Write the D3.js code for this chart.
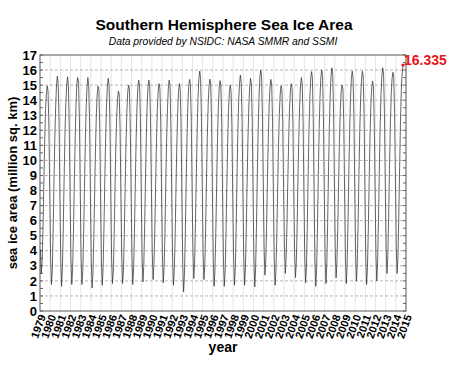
<!DOCTYPE html>
<html>
<head>
<meta charset="utf-8">
<script src="https://cdn.jsdelivr.net/npm/d3@7"></script>
<style>
  body { margin: 0; background: #fff; }
  svg { font-family: "Liberation Sans", Arial, sans-serif; }
</style>
</head>
<body>
<svg id="svg" width="450" height="366"></svg>
<script>
// monthly sea ice area (million sq. km), Jan..Dec
const years = [1979, 1980, 1981, 1982, 1983, 1984, 1985, 1986, 1987, 1988, 1989, 1990,
  1991, 1992, 1993, 1994, 1995, 1996, 1997, 1998, 1999, 2000, 2001, 2002,
  2003, 2004, 2005, 2006, 2007, 2008, 2009, 2010, 2011, 2012, 2013, 2014]

const monthly = [
  [4.1, 2.5, 3.3, 5.4, 8.4, 11.2, 13.3, 14.4, 14.95, 14.6, 12.3, 7.9],
  [3.6, 1.76, 2.7, 5.2, 8.6, 11.5, 13.6, 15.0, 15.6, 15.1, 12.6, 7.6],
  [3.4, 1.64, 2.9, 5.6, 8.9, 11.8, 13.8, 15.0, 15.55, 15.0, 12.4, 7.7],
  [3.5, 1.76, 2.8, 5.3, 8.5, 11.4, 13.7, 15.1, 15.5, 15.2, 12.8, 8.0],
  [3.6, 1.76, 2.6, 5.0, 8.3, 11.3, 13.5, 14.9, 15.5, 15.0, 12.5, 7.8],
  [3.4, 1.53, 2.5, 4.8, 7.9, 10.8, 13.0, 14.4, 14.93, 14.7, 12.2, 7.5],
  [3.3, 1.71, 2.9, 5.5, 8.8, 11.6, 13.6, 14.9, 15.45, 15.0, 12.6, 7.9],
  [3.5, 1.82, 2.6, 4.9, 8.0, 10.9, 12.9, 14.1, 14.6, 14.4, 12.1, 7.6],
  [3.6, 1.82, 2.7, 5.1, 8.2, 11.1, 13.2, 14.5, 15.0, 14.8, 12.4, 8.1],
  [3.7, 1.76, 2.8, 5.3, 8.5, 11.5, 13.6, 14.8, 15.33, 15.0, 12.7, 7.9],
  [3.6, 1.93, 3.0, 5.6, 8.7, 11.6, 13.7, 14.9, 15.33, 14.9, 12.5, 8.2],
  [3.9, 2.09, 3.1, 5.4, 8.4, 11.3, 13.4, 14.6, 15.1, 14.8, 12.6, 7.8],
  [3.7, 1.87, 2.9, 5.2, 8.6, 11.5, 13.5, 14.8, 15.33, 14.9, 12.3, 7.7],
  [3.5, 1.71, 2.7, 5.0, 8.1, 11.0, 13.2, 14.6, 15.1, 14.7, 12.4, 7.4],
  [3.1, 1.27, 2.4, 5.1, 8.5, 11.5, 13.6, 14.9, 15.38, 15.1, 12.9, 8.3],
  [4.0, 2.16, 3.2, 5.8, 9.0, 12.0, 14.1, 15.4, 15.93, 15.5, 13.0, 8.4],
  [3.9, 2.09, 3.0, 5.5, 8.7, 11.6, 13.7, 14.9, 15.4, 15.1, 12.7, 7.9],
  [3.5, 1.64, 2.7, 5.2, 8.4, 11.4, 13.5, 14.8, 15.3, 15.0, 12.5, 7.7],
  [3.4, 1.64, 2.6, 5.0, 8.2, 11.1, 13.3, 14.5, 15.0, 14.6, 12.3, 7.6],
  [3.5, 1.71, 2.8, 5.4, 8.8, 11.8, 13.9, 15.1, 15.67, 15.2, 12.8, 8.0],
  [3.6, 1.71, 2.9, 5.5, 8.7, 11.5, 13.6, 14.9, 15.45, 15.1, 12.6, 7.8],
  [3.4, 1.6, 2.8, 5.6, 9.0, 12.0, 14.2, 15.5, 16.0, 15.6, 13.1, 8.6],
  [4.2, 2.38, 3.4, 5.7, 8.8, 11.6, 13.7, 14.9, 15.38, 15.0, 12.6, 7.6],
  [3.4, 1.71, 2.7, 5.0, 8.1, 11.0, 13.1, 14.4, 14.95, 14.7, 12.5, 8.2],
  [4.3, 2.49, 3.5, 5.7, 8.6, 11.3, 13.4, 14.6, 15.1, 14.8, 12.6, 8.0],
  [3.9, 2.22, 3.2, 5.6, 8.8, 11.6, 13.7, 15.0, 15.5, 15.1, 12.8, 7.9],
  [3.6, 1.87, 2.9, 5.6, 9.0, 12.0, 14.1, 15.4, 15.9, 15.5, 12.9, 7.8],
  [3.4, 1.64, 2.8, 5.5, 9.0, 12.1, 14.2, 15.5, 16.0, 15.6, 13.0, 8.1],
  [3.6, 1.82, 3.0, 5.8, 9.2, 12.2, 14.3, 15.6, 16.15, 15.7, 13.2, 8.3],
  [4.0, 2.2, 3.3, 5.6, 8.6, 11.4, 13.4, 14.6, 15.0, 14.8, 12.7, 8.0],
  [3.6, 1.82, 3.0, 5.7, 9.1, 12.0, 14.1, 15.4, 15.93, 15.5, 13.0, 8.2],
  [3.8, 1.98, 3.2, 5.9, 9.2, 12.1, 14.2, 15.4, 15.93, 15.6, 13.1, 8.0],
  [3.6, 1.76, 2.9, 5.4, 8.6, 11.5, 13.7, 14.8, 15.27, 15.0, 12.6, 8.1],
  [3.8, 2.0, 3.3, 6.0, 9.3, 12.3, 14.4, 15.6, 16.15, 15.8, 13.3, 8.6],
  [4.3, 2.49, 3.6, 6.2, 9.4, 12.3, 14.3, 15.4, 15.85, 15.6, 13.2, 8.7],
  [4.3, 2.49, 3.6, 6.3, 9.6, 12.6, 14.7, 15.8, 16.335]
]

const xTicks = [1979, 1980, 1981, 1982, 1983, 1984, 1985, 1986, 1987, 1988, 1989, 1990,
  1991, 1992, 1993, 1994, 1995, 1996, 1997, 1998, 1999, 2000, 2001, 2002, 2003,
  2004, 2005, 2006, 2007, 2008, 2009, 2010, 2011, 2012, 2013, 2014, 2015]
const yTicks = [0, 1, 2, 3, 4, 5, 6, 7, 8, 9, 10, 11, 12, 13, 14, 15, 16, 17]
const yMinorTicks = [0.5, 1.5, 2.5, 3.5, 4.5, 5.5, 6.5, 7.5, 8.5, 9.5, 10.5, 11.5,
  12.5, 13.5, 14.5, 15.5, 16.5]

const margin = { top: 55, right: 44, bottom: 55, left: 40 }
const width = 450
const height = 366

// flatten to points, mid-month positions
const points = []
monthly.forEach((row, i) => {
  row.forEach((v, m) => points.push({ t: years[i] + (m + 0.5) / 12, v }))
})

const x = d3.scaleLinear()
  .domain([1979, 2015])
  .range([margin.left, width - margin.right])
const y = d3.scaleLinear()
  .domain([0, 17])
  .range([height - margin.bottom, margin.top])

const svg = d3.select('#svg')

// vertical grid
svg.append('g')
  .selectAll('line')
  .data(xTicks.slice(1, -1))
  .enter()
  .append('line')
  .attr('x1', d => x(d)).attr('x2', d => x(d))
  .attr('y1', y(17)).attr('y2', y(0))
  .attr('stroke', '#e6e6e6')
  .attr('stroke-width', 1)

// horizontal dashed grid
svg.append('g')
  .selectAll('line')
  .data(yTicks.slice(1, -1))
  .enter()
  .append('line')
  .attr('x1', x(1979)).attr('x2', x(2015))
  .attr('y1', d => y(d)).attr('y2', d => y(d))
  .attr('stroke', '#c4aeba')
  .attr('stroke-dasharray', '3,2')
  .attr('stroke-width', 1)

// ticks on both sides, pointing in
const tickG = svg.append('g').attr('stroke', '#666')
tickG.selectAll('.tl')
  .data(yMinorTicks.concat(yTicks))
  .enter()
  .append('line')
  .attr('x1', x(1979)).attr('x2', x(1979) + 3)
  .attr('y1', d => y(d)).attr('y2', d => y(d))
tickG.selectAll('.tr')
  .data(yMinorTicks.concat(yTicks))
  .enter()
  .append('line')
  .attr('x1', x(2015)).attr('x2', x(2015) - 3)
  .attr('y1', d => y(d)).attr('y2', d => y(d))

// frame
svg.append('rect')
  .attr('x', x(1979))
  .attr('y', y(17))
  .attr('width', x(2015) - x(1979))
  .attr('height', y(0) - y(17))
  .attr('fill', 'none')
  .attr('stroke', '#555')
  .attr('stroke-width', 1)

// data line
const line = d3.line()
  .x(d => x(d.t))
  .y(d => y(d.v))
svg.append('path')
  .datum(points)
  .attr('d', line)
  .attr('fill', 'none')
  .attr('stroke', '#333')
  .attr('stroke-width', 0.75)

// last value
const last = points[points.length - 1]
svg.append('circle')
  .attr('cx', x(last.t))
  .attr('cy', y(last.v))
  .attr('r', 1.6)
  .attr('fill', '#e8161a')
svg.append('text')
  .attr('x', x(last.t) + 1)
  .attr('y', y(last.v))
  .attr('fill', '#e8161a')
  .attr('font-size', 14)
  .attr('font-weight', 'bold')
  .text(last.v.toFixed(3))

// axes
const leftAxis = d3.axisLeft(y).tickValues(yTicks).tickSize(0).tickPadding(3)
const yAxisG = svg.append('g')
  .attr('transform', `translate(${margin.left}, 0)`)
  .call(leftAxis)
yAxisG.select('.domain').remove()
yAxisG.selectAll('text')
  .attr('font-size', 13)
  .attr('font-weight', 'bold')
  .attr('font-family', '"Liberation Sans", Arial, sans-serif')
  .attr('fill', '#000')

const bottomAxis = d3.axisBottom(x).tickValues(xTicks).tickFormat(d3.format('d')).tickSize(0)
const xAxisG = svg.append('g')
  .attr('transform', `translate(0, ${height - margin.bottom})`)
  .call(bottomAxis)
xAxisG.select('.domain').remove()
xAxisG.selectAll('text')
  .attr('font-size', 11)
  .attr('font-weight', 'bold')
  .attr('font-family', '"Liberation Sans", Arial, sans-serif')
  .attr('fill', '#000')
  .attr('x', 0)
  .attr('y', 0)
  .attr('dy', '0.35em')
  .attr('text-anchor', 'end')
  .attr('transform', 'translate(2, 4) rotate(-70)')

// titles
svg.append('text')
  .attr('x', 224).attr('y', 30)
  .attr('text-anchor', 'middle')
  .attr('font-size', 15.5)
  .attr('font-weight', 'bold')
  .text('Southern Hemisphere Sea Ice Area')
svg.append('text')
  .attr('x', 223).attr('y', 45)
  .attr('text-anchor', 'middle')
  .attr('font-size', 10.3)
  .attr('font-style', 'italic')
  .text('Data provided by NSIDC: NASA SMMR and SSMI')

svg.append('text')
  .attr('transform', `translate(17, ${(y(0) + y(17)) / 2}) rotate(-90)`)
  .attr('text-anchor', 'middle')
  .attr('font-size', 13)
  .attr('font-weight', 'bold')
  .text('sea ice area (million sq. km)')
svg.append('text')
  .attr('x', 223).attr('y', 352)
  .attr('text-anchor', 'middle')
  .attr('font-size', 14)
  .attr('font-weight', 'bold')
  .text('year')
</script>
</body>
</html>
